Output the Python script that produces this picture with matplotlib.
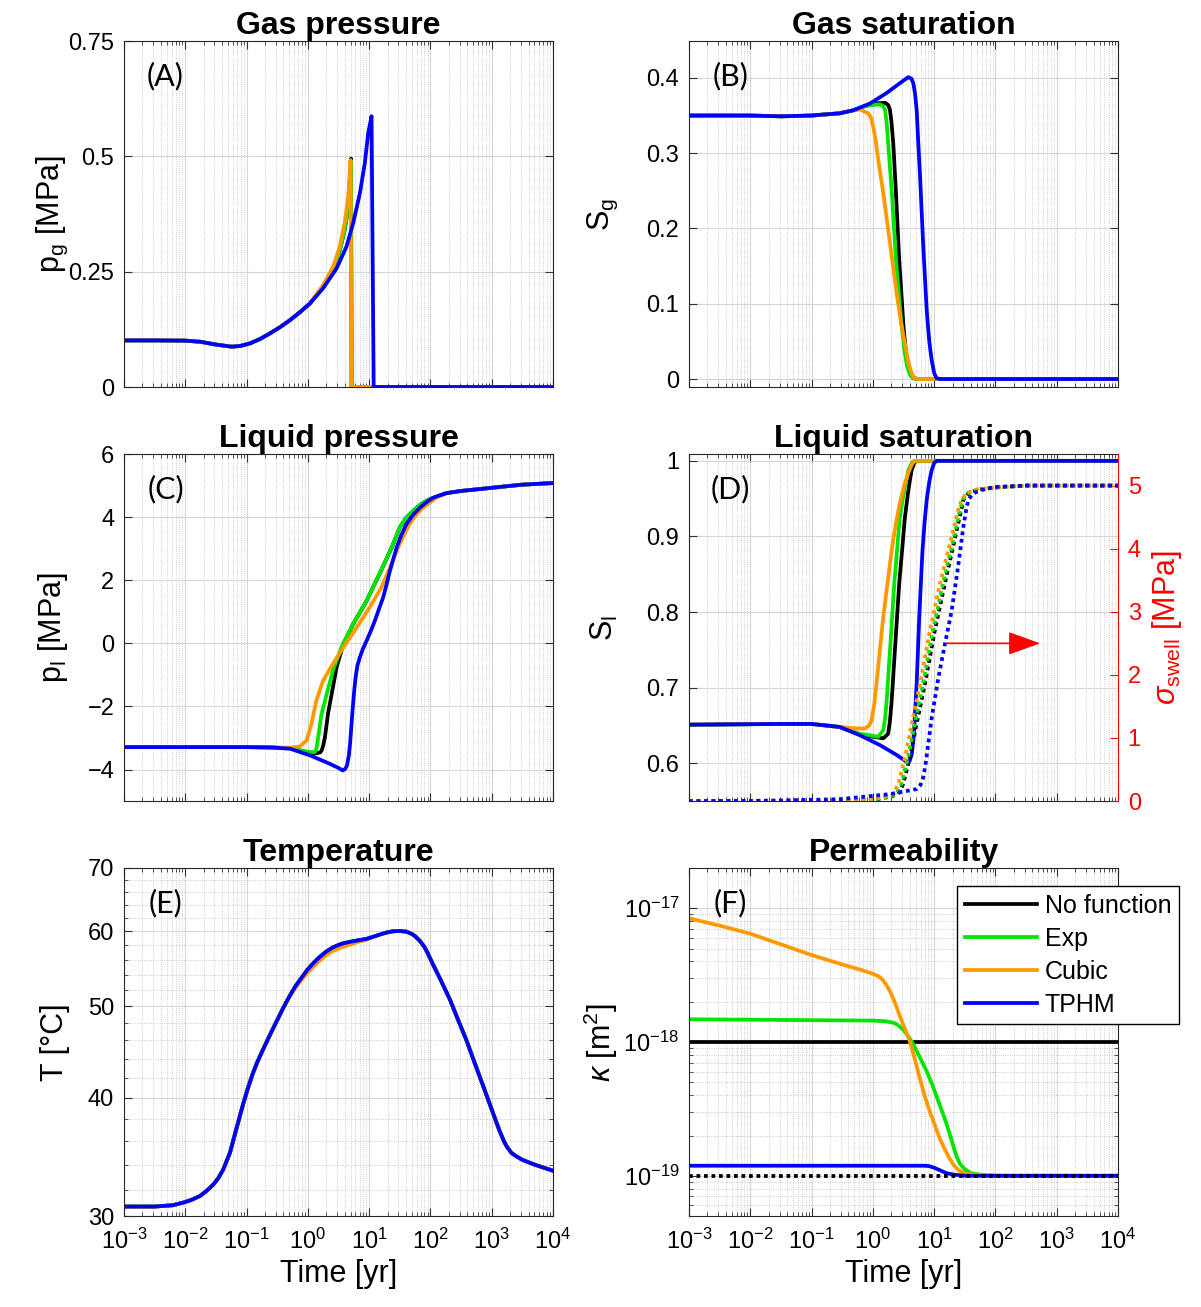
import numpy as np
import matplotlib.pyplot as plt
from matplotlib.ticker import LogLocator, FixedLocator, NullFormatter

plt.rcParams['font.family'] = ['Liberation Sans', 'DejaVu Sans']
plt.rcParams['mathtext.fontset'] = 'custom'
plt.rcParams['mathtext.rm'] = 'Liberation Sans'
plt.rcParams['mathtext.it'] = 'Liberation Sans:italic'

# colours of the four permeability models
col_none, col_exp, col_cub, col_tphm = 'black', '#00e600', '#ff9900', '#0000ff'
labels = ['No function', 'Exp', 'Cubic', 'TPHM']

# all times are log10(yr)
# ---- (A) gas pressure [MPa]
a_lt_early = [-3, -2.5, -2, -1.75, -1.5, -1.24, -1.1, -0.94, -0.78, -0.62, -0.45, -0.29, -0.13, 0.034]
a_early = [0.101, 0.101, 0.1005, 0.098, 0.092, 0.0874, 0.089, 0.0947, 0.104, 0.116, 0.13, 0.145,
           0.162, 0.181]
a_lt_tphm = [0.25, 0.47, 0.63, 0.74, 0.85, 0.93, 0.985, 1.04, 1.075, 4]
a_tphm = [0.214, 0.257, 0.304, 0.355, 0.42, 0.485, 0.55, 0.587, 0.0, 0.0]
a_lt_cub = [0.25, 0.414, 0.52, 0.6, 0.66, 0.697, 0.713, 4]
a_cub = [0.221, 0.261, 0.304, 0.355, 0.412, 0.492, 0.0, 0.0]
a_lt_exp = [0.25, 0.414, 0.52, 0.6, 0.66, 0.695, 0.705, 0.715, 4]
a_exp = [0.218, 0.255, 0.295, 0.34, 0.39, 0.47, 0.49, 0.0, 0.0]
a_none = [0.218, 0.255, 0.295, 0.34, 0.39, 0.47, 0.495, 0.0, 0.0]

# ---- (B) gas saturation
b_lt_early = [-3, -2, -1.5, -1, -0.86, -0.54, -0.32]
b_early = [0.35, 0.35, 0.349, 0.35, 0.351, 0.353, 0.357]
b_lt_tphm = [-0.047, 0.225, 0.44, 0.578, 0.63, 0.66, 0.69, 0.715, 0.74, 0.77, 0.82, 0.878, 0.92,
             0.96, 1.0, 1.04, 1.1, 4]
b_tphm = [0.366, 0.38, 0.393, 0.401, 0.399, 0.393, 0.378, 0.357, 0.315, 0.269, 0.18, 0.092, 0.05,
          0.025, 0.008, 0.001, 0, 0]
b_lt_none = [-0.15, 0.0, 0.2, 0.25, 0.28, 0.305, 0.333, 0.377, 0.43, 0.5, 0.54, 0.578, 0.62, 0.66,
             0.75, 4]
b_none = [0.362, 0.366, 0.367, 0.364, 0.357, 0.34, 0.313, 0.247, 0.158, 0.0695, 0.035, 0.016,
          0.005, 0.001, 0, 0]
b_lt_exp = [-0.15, 0.0, 0.116, 0.17, 0.2, 0.225, 0.25, 0.31, 0.377, 0.47, 0.52, 0.56, 0.61, 0.66,
            0.75, 4]
b_exp = [0.362, 0.364, 0.365, 0.362, 0.357, 0.34, 0.313, 0.247, 0.158, 0.0695, 0.035, 0.016,
         0.005, 0.001, 0, 0]
b_lt_cub = [-0.2, -0.156, -0.075, -0.03, 0.007, 0.05, 0.088, 0.17, 0.28, 0.388, 0.46, 0.523,
            0.58, 0.633, 0.68, 0.714, 4]
b_cub = [0.358, 0.356, 0.353, 0.347, 0.335, 0.315, 0.291, 0.247, 0.18, 0.114, 0.075, 0.047,
         0.022, 0.0076, 0.001, 0, 0]

# ---- (C) liquid pressure [MPa]
c_lt_early = [-3, -1, -0.6]
c_early = [-3.29, -3.29, -3.3]
c_lt_tail = [2.5, 2.85, 3.2, 3.5, 4]
c_tail = [4.83, 4.9, 4.97, 5.03, 5.08]
c_lt_tphm = [-0.29, 0.034, 0.36, 0.5, 0.57, 0.61, 0.64, 0.67, 0.69, 0.71, 0.73, 0.755, 0.78,
             0.81, 0.85, 0.9, 0.96, 1.03, 1.095, 1.16, 1.23, 1.29, 1.34, 1.45, 1.53, 1.61, 1.72,
             1.83, 1.94, 2.05, 2.26]
c_tphm = [-3.34, -3.55, -3.82, -3.95, -4.03, -3.98, -3.87, -3.55, -3.18, -2.65, -2.13, -1.55,
          -1.08, -0.7, -0.44, -0.17, 0.085, 0.4, 0.72, 1.08, 1.46, 1.9, 2.3, 3.04, 3.45, 3.78,
          4.08, 4.3, 4.48, 4.62, 4.76]
c_lt_none = [-0.29, 0.0, 0.09, 0.2, 0.225, 0.25, 0.28, 0.33, 0.39, 0.47, 0.58, 0.74, 0.96, 1.17,
             1.37, 1.5, 1.6, 1.72, 1.85, 1.99, 2.26]
c_none = [-3.33, -3.45, -3.5, -3.46, -3.4, -3.25, -2.97, -2.23, -1.6, -0.76, -0.02, 0.61, 1.35,
          2.2, 3.04, 3.67, 3.97, 4.2, 4.42, 4.57, 4.76]
c_lt_exp = [-0.29, 0.0, 0.115, 0.14, 0.17, 0.225, 0.31, 0.41, 0.55, 0.74, 0.96, 1.17, 1.37, 1.5,
            1.6, 1.72, 1.85, 1.99, 2.26]
c_exp = [-3.33, -3.44, -3.45, -3.35, -2.97, -2.23, -1.6, -0.86, -0.12, 0.61, 1.35, 2.2, 3.04,
         3.67, 3.97, 4.2, 4.42, 4.57, 4.76]
c_lt_cub = [-0.29, -0.13, -0.02, 0.06, 0.14, 0.25, 0.41, 0.58, 0.8, 1.01, 1.2, 1.34, 1.5, 1.66,
            1.77, 1.88, 2.1, 2.26]
c_cub = [-3.31, -3.27, -3.08, -2.55, -1.81, -1.18, -0.65, -0.13, 0.51, 1.14, 1.77, 2.4, 3.15,
         3.78, 4.08, 4.3, 4.62, 4.76]

# ---- (D) liquid saturation
d_lt_early = [-3, -1.5, -1, -0.54]
d_early = [0.651, 0.652, 0.652, 0.648]
d_lt_tphm = [-0.21, 0.116, 0.388, 0.55, 0.6, 0.635, 0.67, 0.69, 0.715, 0.757, 0.81, 0.845, 0.878,
             0.92, 0.96, 1.0, 1.04, 4]
d_tphm = [0.637, 0.624, 0.611, 0.602, 0.603, 0.612, 0.639, 0.67, 0.706, 0.794, 0.882, 0.92, 0.948,
          0.972, 0.988, 0.997, 1.0, 1.0]
d_lt_none = [-0.21, 0.007, 0.17, 0.25, 0.28, 0.307, 0.36, 0.43, 0.524, 0.58, 0.633, 0.68, 0.715, 4]
d_none = [0.638, 0.635, 0.633, 0.639, 0.657, 0.683, 0.75, 0.838, 0.926, 0.962, 0.988, 0.998, 1.0, 1.0]
d_lt_exp = [-0.21, -0.047, 0.09, 0.17, 0.2, 0.225, 0.28, 0.35, 0.44, 0.51, 0.58, 0.64, 0.68, 4]
d_exp = [0.639, 0.637, 0.635, 0.644, 0.66, 0.683, 0.75, 0.838, 0.926, 0.96, 0.988, 0.998, 1.0, 1.0]
d_lt_cub = [-0.265, -0.13, -0.06, -0.02, 0.02, 0.06, 0.17, 0.307, 0.37, 0.44, 0.51, 0.578, 0.64,
            0.687, 4]
d_cub = [0.646, 0.646, 0.65, 0.657, 0.677, 0.706, 0.794, 0.882, 0.915, 0.944, 0.967, 0.984, 0.996,
         1.0, 1.0]

# swelling pressure [MPa] (right axis)
sw_lt_tphm = [-3, -2, -1.5, -1, -0.537, 0.28, 0.715, 0.78, 0.82, 0.855, 0.888, 0.96, 1.07, 1.176,
              1.286, 1.39, 1.475, 1.52, 1.556, 1.62, 1.69, 1.85, 2.02, 2.5, 4]
sw_tphm = [0, 0.003, 0.01, 0.02, 0.03, 0.11, 0.19, 0.26, 0.37, 0.55, 0.79, 1.32, 1.96, 2.49, 3.02,
           3.71, 4.34, 4.6, 4.77, 4.86, 4.9, 4.95, 4.98, 5.0, 5.0]
sw_lt_cub = [-3, -1, -0.5, 0.0, 0.2, 0.333, 0.415, 0.524, 0.633, 0.77, 0.93, 1.095, 1.258, 1.39,
             1.45, 1.53, 1.7, 2.0, 2.5, 4]
sw_lt_exp = [-3, -1, -0.5, 0.05, 0.25, 0.383, 0.465, 0.574, 0.683, 0.82, 0.98, 1.145, 1.3, 1.42,
             1.47, 1.55, 1.72, 2.0, 2.5, 4]
sw_lt_none = [-3, -1, -0.5, 0.08, 0.28, 0.413, 0.495, 0.604, 0.713, 0.85, 1.01, 1.175, 1.32, 1.44,
              1.48, 1.56, 1.73, 2.0, 2.5, 4]
sw_cub = [0, 0, 0.005, 0.03, 0.07, 0.11, 0.27, 0.69, 1.22, 1.86, 2.7, 3.45, 4.08, 4.61, 4.78,
          4.88, 4.94, 4.97, 5.0, 5.0]
sw_exp = sw_cub
sw_none = sw_cub

# ---- (E) temperature [degC]
e_lt = [-3, -2.5, -2.2, -2.03, -1.9, -1.76, -1.65, -1.54, -1.46, -1.38, -1.27, -1.17, -1.06, -0.98,
        -0.9, -0.82, -0.73, -0.64, -0.55, -0.4, -0.3, -0.2, -0.1, -0.01, 0.1, 0.2, 0.3, 0.41, 0.55,
        0.7, 0.83, 0.96, 1.1, 1.2, 1.3, 1.39, 1.5, 1.61, 1.7, 1.75, 1.83, 1.9, 1.95, 2.04, 2.18,
        2.32, 2.45, 2.59, 2.72, 2.86, 3.0, 3.07, 3.13, 3.2, 3.25, 3.32, 3.4, 3.5, 3.7, 4]
e_temp = [30.7, 30.7, 30.8, 31.0, 31.2, 31.5, 31.9, 32.4, 32.9, 33.6, 35.0, 37.0, 39.3, 40.9,
          42.4, 43.7, 45.0, 46.3, 47.6, 49.8, 51.2, 52.5, 53.6, 54.6, 55.6, 56.4, 57.1, 57.7, 58.2,
          58.5, 58.7, 58.9, 59.3, 59.6, 59.85, 60.0, 60.05, 59.95, 59.6, 59.3, 58.6, 57.8, 57.0,
          55.4, 53.1, 50.8, 48.4, 46.0, 43.6, 41.2, 38.9, 37.8, 36.9, 36.0, 35.5, 35.0, 34.7, 34.4,
          34.0, 33.5]
e_temp_cub = [30.7, 30.7, 30.8, 31.0, 31.2, 31.5, 31.9, 32.4, 32.9, 33.6, 35.0, 37.0, 39.3, 40.9,
              42.4, 43.7, 45.0, 46.3, 47.6, 49.8, 51.2, 52.3, 53.3, 54.2, 55.1, 55.9, 56.6, 57.2,
              57.7, 58.1, 58.5, 58.8, 59.3, 59.6, 59.85, 60.0, 60.05, 59.95, 59.6, 59.3, 58.6,
              57.8, 57.0, 55.4, 53.1, 50.8, 48.4, 46.0, 43.6, 41.2, 38.9, 37.8, 36.9, 36.0, 35.5,
              35.0, 34.7, 34.4, 34.0, 33.5]

# ---- (F) permeability, log10(m^2)
f_lt_flat = [-3, 4]
f_none = [-18.0, -18.0]
f_intr = [-19.0, -19.0]
f_lt_cub = [-3, -2.5, -2, -1.5, -1, -0.5, -0.2, 0, 0.1, 0.17, 0.23, 0.3, 0.38, 0.46, 0.6, 0.68,
            0.77, 0.85, 0.93, 1.01, 1.09, 1.17, 1.25, 1.32, 1.4, 1.5, 1.6, 1.8, 2, 4]
f_cub = [-17.075, -17.13, -17.19, -17.27, -17.35, -17.42, -17.46, -17.49, -17.51, -17.54, -17.58,
         -17.64, -17.73, -17.83, -17.99, -18.12, -18.28, -18.41, -18.52, -18.62, -18.72, -18.8,
         -18.87, -18.92, -18.96, -18.98, -18.99, -18.995, -19.0, -19.0]
f_lt_exp = [-3, 0, 0.2, 0.33, 0.4, 0.45, 0.5, 0.55, 0.64, 0.75, 0.88, 0.97, 1.05, 1.13, 1.2, 1.27,
            1.32, 1.37, 1.42, 1.5, 1.6, 1.8, 2, 4]
f_exp = [-17.83, -17.84, -17.845, -17.855, -17.87, -17.89, -17.91, -17.94, -18.0, -18.1, -18.22,
         -18.32, -18.42, -18.52, -18.61, -18.71, -18.79, -18.86, -18.91, -18.95, -18.98, -18.995,
         -19.0, -19.0]
f_lt_tphm = [-3, 0.85, 0.92, 1.0, 1.1, 1.2, 1.3, 1.5, 4]
f_tphm = [-18.925, -18.925, -18.928, -18.94, -18.96, -18.98, -18.99, -19.0, -19.0]


def curve(ax, lt, v, c, **kw):
    kw.setdefault('lw', 2.7)
    return ax.plot(10.0 ** np.asarray(lt), v, color=c, **kw)[0]


def style(ax, minor_y=False):
    ax.set_xscale('log')
    ax.set_xlim(1e-3, 1e4)
    ax.set_xticks([10.0 ** k for k in range(-3, 5)])
    ax.xaxis.set_minor_locator(LogLocator(base=10, subs=np.arange(2, 10), numticks=30))
    ax.xaxis.set_minor_formatter(NullFormatter())
    ax.tick_params(which='both', direction='in', top=True, right=True, labelsize=17,
                   color='#333333')
    ax.tick_params(axis='x', pad=9)
    ax.tick_params(axis='y', pad=7)
    ax.tick_params(which='major', length=6)
    ax.tick_params(which='minor', length=3)
    ax.grid(which='major', color='#d6d6d6', lw=0.8)
    ax.grid(which='minor', axis='both' if minor_y else 'x', color='#bdbdbd', lw=0.6, ls=':')
    ax.set_axisbelow(True)
    for s in ax.spines.values():
        s.set_color('#262626')
        s.set_linewidth(0.8)


fig = plt.figure(figsize=(12.01, 13.07), dpi=100)
w = 0.3572
axA = fig.add_axes([0.1032, 0.7039, w, 0.2647])
axB = fig.add_axes([0.5737, 0.7039, w, 0.2647])
axC = fig.add_axes([0.1032, 0.3871, w, 0.2655])
axD = fig.add_axes([0.5737, 0.3871, w, 0.2655])
axE = fig.add_axes([0.1032, 0.0696, w, 0.2663])
axF = fig.add_axes([0.5737, 0.0696, w, 0.2663])

title_kw = dict(fontsize=23, fontweight='bold', pad=5)
lab_fs = 22

# (A)
style(axA)
curve(axA, a_lt_early + a_lt_exp, a_early + a_none, col_none)
curve(axA, a_lt_early + a_lt_exp, a_early + a_exp, col_exp)
curve(axA, a_lt_early + a_lt_cub, a_early + a_cub, col_cub)
curve(axA, a_lt_early + a_lt_tphm, a_early + a_tphm, col_tphm)
axA.set_ylim(0, 0.75)
axA.set_yticks([0, 0.25, 0.5, 0.75], labels=['0', '0.25', '0.5', '0.75'])
axA.set_ylabel(r'p$_\mathrm{g}$ [MPa]', fontsize=lab_fs)
axA.set_title('Gas pressure', **title_kw)

# (B)
style(axB)
curve(axB, b_lt_early + b_lt_none, b_early + b_none, col_none)
curve(axB, b_lt_early + b_lt_exp, b_early + b_exp, col_exp)
curve(axB, b_lt_early + b_lt_cub, b_early + b_cub, col_cub)
curve(axB, b_lt_early + b_lt_tphm, b_early + b_tphm, col_tphm)
axB.set_ylim(-0.0106, 0.449)
axB.set_yticks([0, 0.1, 0.2, 0.3, 0.4], labels=['0', '0.1', '0.2', '0.3', '0.4'])
axB.set_ylabel(r'S$_\mathrm{g}$', fontsize=lab_fs)
axB.set_title('Gas saturation', **title_kw)

# (C)
style(axC)
curve(axC, c_lt_early + c_lt_none + c_lt_tail, c_early + c_none + c_tail, col_none)
curve(axC, c_lt_early + c_lt_exp + c_lt_tail, c_early + c_exp + c_tail, col_exp)
curve(axC, c_lt_early + c_lt_cub + c_lt_tail, c_early + c_cub + c_tail, col_cub)
curve(axC, c_lt_early + c_lt_tphm + c_lt_tail, c_early + c_tphm + c_tail, col_tphm)
axC.set_ylim(-5, 6)
axC.set_yticks([-4, -2, 0, 2, 4, 6])
axC.set_ylabel(r'p$_\mathrm{l}$ [MPa]', fontsize=lab_fs)
axC.set_title('Liquid pressure', **title_kw)

# (D)
style(axD)
axD.tick_params(which='both', right=False)
axD.spines['right'].set_visible(False)
curve(axD, d_lt_early + d_lt_none, d_early + d_none, col_none)
curve(axD, d_lt_early + d_lt_exp, d_early + d_exp, col_exp)
curve(axD, d_lt_early + d_lt_cub, d_early + d_cub, col_cub)
curve(axD, d_lt_early + d_lt_tphm, d_early + d_tphm, col_tphm)
axD.set_ylim(0.55, 1.009)
axD.set_yticks([0.6, 0.7, 0.8, 0.9, 1.0], labels=['0.6', '0.7', '0.8', '0.9', '1'])
axD.set_ylabel(r'S$_\mathrm{l}$', fontsize=lab_fs)
axD.set_title('Liquid saturation', **title_kw)

axD2 = axD.twinx()
dot = dict(ls=(0, (1, 1)), lw=2.7)
curve(axD2, sw_lt_none, sw_none, col_none, **dot)
curve(axD2, sw_lt_exp, sw_exp, col_exp, **dot)
curve(axD2, sw_lt_cub, sw_cub, col_cub, **dot)
curve(axD2, sw_lt_tphm, sw_tphm, col_tphm, **dot)
axD2.set_xlim(1e-3, 1e4)
axD2.set_ylim(0, 5.5)
axD2.set_yticks([0, 1, 2, 3, 4, 5])
axD2.tick_params(axis='y', colors='red', direction='in', labelsize=17, length=6, pad=7)
for s in ['left', 'top', 'bottom']:
    axD2.spines[s].set_visible(False)
axD2.spines['right'].set_color('red')
axD2.spines['right'].set_linewidth(0.8)
axD2.set_ylabel(r'$\sigma_{\mathrm{swell}}$ [MPa]', color='red', fontsize=lab_fs)
axD2.yaxis.set_label_coords(1.075, 0.5)
axD2.annotate('', xy=(10 ** 2.73, 2.5), xytext=(10 ** 1.2, 2.5),
              arrowprops=dict(arrowstyle='-|>,head_length=1.0,head_width=0.36',
                              color='red', lw=1.2, mutation_scale=20, shrinkA=0, shrinkB=0))

# (E)
style(axE, minor_y=True)
axE.set_yscale('log')
curve(axE, e_lt, e_temp, col_none)
curve(axE, e_lt, e_temp, col_exp)
curve(axE, e_lt, e_temp_cub, col_cub)
curve(axE, e_lt, e_temp, col_tphm)
axE.set_ylim(30, 70)
axE.set_yticks([30, 40, 50, 60, 70], labels=['30', '40', '50', '60', '70'])
axE.yaxis.set_minor_locator(FixedLocator([32, 34, 36, 38, 42, 44, 46, 48, 52, 54, 56, 58,
                                          62, 64, 66, 68]))
axE.yaxis.set_minor_formatter(NullFormatter())
axE.set_ylabel('T [°C]', fontsize=lab_fs)
axE.set_xlabel('Time [yr]', fontsize=lab_fs)
axE.set_title('Temperature', **title_kw)

# (F)
style(axF, minor_y=True)
axF.set_yscale('log')
h = [curve(axF, f_lt_flat, 10.0 ** np.array(f_none), col_none),
     curve(axF, f_lt_exp, 10.0 ** np.array(f_exp), col_exp),
     curve(axF, f_lt_cub, 10.0 ** np.array(f_cub), col_cub),
     curve(axF, f_lt_tphm, 10.0 ** np.array(f_tphm), col_tphm)]
curve(axF, f_lt_flat, 10.0 ** np.array(f_intr), 'black', ls=(0, (1, 1)))
axF.set_ylim(5e-20, 2e-17)
axF.set_yticks([1e-19, 1e-18, 1e-17])
axF.yaxis.set_minor_locator(LogLocator(base=10, subs=np.arange(2, 10), numticks=30))
axF.yaxis.set_minor_formatter(NullFormatter())
axF.set_ylabel(r'$\kappa$ [m$^2$]', fontsize=lab_fs)
axF.set_xlabel('Time [yr]', fontsize=lab_fs)
axF.set_title('Permeability', **title_kw)
leg = axF.legend(h, labels, loc='upper left', bbox_to_anchor=(0.625, 0.948), fontsize=18,
                 frameon=True, fancybox=False, edgecolor='black', framealpha=1,
                 borderaxespad=0, handlelength=2.9, handletextpad=0.3, labelspacing=0.36,
                 borderpad=0.3)
leg.get_frame().set_linewidth(1.0)

for ax in (axA, axB, axC, axD):
    ax.tick_params(labelbottom=False)

# y labels aligned per column, as in the original layout
for ax in (axA, axC, axE):
    ax.yaxis.set_label_coords(-0.125, 0.5)
for ax in (axB, axD, axF):
    ax.yaxis.set_label_coords(-0.16, 0.5)

for ax, lab in zip((axA, axB, axC, axD, axE, axF), 'ABCDEF'):
    ax.text(0.097, 0.9, '(%s)' % lab, transform=ax.transAxes, fontsize=22,
            ha='center', va='center', family=['Lato', 'DejaVu Sans'])

fig.savefig('out.png', dpi=100, facecolor='white')
